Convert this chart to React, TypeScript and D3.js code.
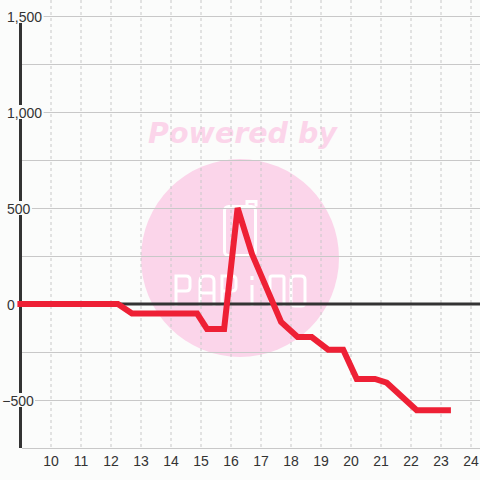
import React from "react";
import * as d3 from "d3";

// Data
const hours = [8.88, 12.23, 12.7, 14.87, 15.2, 15.77, 16.22, 16.7, 17.67, 18.22, 18.69, 19.24, 19.74, 20.19, 20.8, 21.19, 22.19, 23.33];
const balance = [0, 0, -50, -50, -130, -130, 500, 260, -94, -172, -172, -238, -238, -390, -390, -410, -553, -553];
const xTicks = [10, 11, 12, 13, 14, 15, 16, 17, 18, 19, 20, 21, 22, 23, 24];
const yLabelTicks = [-500, 0, 500, 1000, 1500];
const yGridTicks = [-750, -500, -250, 0, 250, 500, 750, 1000, 1250, 1500];

const W = 480;
const H = 480;
const BG = "#fbfcfb";
const PINK = "#fbd5ea";
const FONT = "'Liberation Sans', Arial, sans-serif";

const letterPaths = [
  "M0,30 V0 H10 Q14,0 14,4 V11 Q14,15 10,15 H0",
  "M0,30 V5 Q0,0 5,0 H9 Q14,0 14,5 V30 M0,17 H14",
  "M0,30 V0 H10 Q14,0 14,4 V11 Q14,15 10,15 H0",
  "M3,9 V30 M3,0 V4",
  "M0,30 V2 Q0,0 2,0 H12 Q14,0 14,2 V30",
  "M0,4 Q0,0 4,0 H10 Q14,0 14,4 V26 Q14,30 10,30 H4 Q0,30 0,26 Z",
];
const letterX = [176, 200, 222, 249, 270, 291];

export default function App() {
  const x = d3.scaleLinear().domain([9, 24.3]).range([21, 480]);
  const y = d3.scaleLinear().domain([-750, 1583.33]).range([448, 0]);

  const pts: [number, number][] = hours.map((h, i) => [h, balance[i]]);
  const line = d3
    .line<[number, number]>()
    .x((d) => x(d[0]))
    .y((d) => y(d[1]));

  const fmt = d3.format(",");
  const charW = (s: string) =>
    s.split("").reduce((a, c) => a + (c === "," ? 3.9 : c === "-" ? 4.7 : 7.8), 0);

  return (
    <svg
      width={W}
      height={H}
      style={{ position: "absolute", left: 0, top: 0, display: "block", background: BG }}
    >
      <rect x={0} y={0} width={W} height={H} fill={BG} />

      {/* watermark */}
      <g>
        <text
          x={242.5}
          y={143}
          textAnchor="middle"
          fontFamily="'DejaVu Sans', sans-serif"
          fontWeight="bold"
          fontStyle="italic"
          fontSize={28.5}
          fill={PINK}
        >
          Powered by
        </text>
        <circle cx={240} cy={258} r={99} fill={PINK} />
        <rect x={224.5} y={206.5} width={31} height={49} rx={4} fill="none" stroke="#fff" strokeWidth={3} />
        <path d="M247,206.5 V201.5 H256 V206.5" fill="none" stroke="#fff" strokeWidth={3} />
        {letterPaths.map((p, i) => (
          <path
            key={i}
            d={p}
            transform={`translate(${letterX[i]},276)`}
            fill="none"
            stroke="#fff"
            strokeWidth={3}
          />
        ))}
      </g>

      {/* vertical dashed grid */}
      {xTicks.map((t) => (
        <line
          key={"vx" + t}
          x1={x(t)}
          x2={x(t)}
          y1={0}
          y2={y(-750)}
          stroke="#c8c8c8"
          strokeWidth={1}
          strokeDasharray="3,3"
        />
      ))}

      {/* horizontal grid */}
      {yGridTicks
        .filter((t) => t !== 0)
        .map((t) => (
          <line
            key={"hy" + t}
            x1={22}
            x2={W}
            y1={Math.round(y(t)) + 0.5}
            y2={Math.round(y(t)) + 0.5}
            stroke="#c8c8c8"
            strokeWidth={1}
          />
        ))}

      {/* y axis */}
      <line x1={20.5} x2={20.5} y1={y(1500)} y2={y(-750)} stroke="#333" strokeWidth={3} />

      {/* zero line */}
      <line x1={19} x2={W} y1={y(0)} y2={y(0)} stroke="#333" strokeWidth={3} />

      {/* y labels */}
      {yLabelTicks.map((t) => {
        const s = fmt(t);
        const w = charW(s);
        const x0 = t < 0 ? 7 - 4.7 : 7;
        const yy = y(t);
        return (
          <g key={"yl" + t}>
            <rect x={x0 - 2} y={yy - 7} width={w + 3.5} height={14} fill={BG} />
            <text x={x0} y={yy + 6} fontFamily={FONT} fontSize={14} fill="#333">
              {s}
            </text>
          </g>
        );
      })}

      {/* x labels */}
      {xTicks.map((t) => (
        <text
          key={"xl" + t}
          x={x(t)}
          y={466}
          textAnchor="middle"
          fontFamily={FONT}
          fontSize={14}
          fill="#333"
        >
          {t}
        </text>
      ))}

      {/* data line */}
      <path d={line(pts) || ""} fill="none" stroke="#ee2035" strokeWidth={6} />
    </svg>
  );
}
